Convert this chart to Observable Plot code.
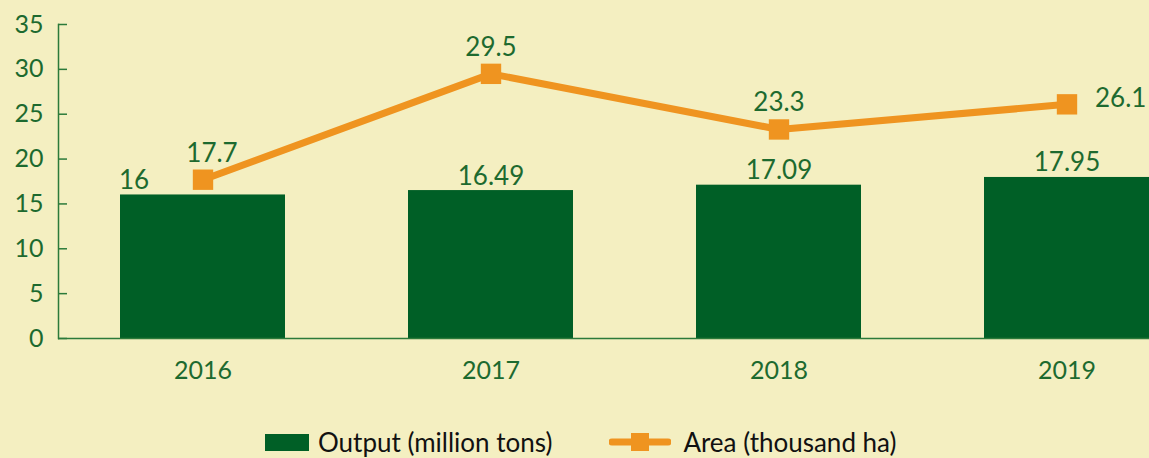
<!DOCTYPE html>
<html>
<head>
<meta charset="utf-8">
<script src="https://cdn.jsdelivr.net/npm/d3@7"></script>
<script src="https://cdn.jsdelivr.net/npm/@observablehq/plot@0.6"></script>
<style>
  html, body { margin: 0; padding: 0; background: #f4efc1; overflow: hidden; }
  body { width: 1149px; height: 458px; font-family: Lato, "Noto Sans", sans-serif; }
  #chart svg { overflow: hidden; display: block; }
  .legend { display: flex; align-items: center; margin-top: 30px; padding-left: 265px; font-size: 26px; line-height: 1.1; color: #111; height: 24px; }
  .legend .item { display: flex; align-items: center; }
  .legend .sw-bar { width: 44px; height: 17px; background: #005f26; margin-right: 9px; }
  .legend svg { margin-right: 12px; }
</style>
</head>
<body>
<div id="chart"></div>
<div class="legend">
  <div class="item"><div class="sw-bar"></div><span>Output (million tons)</span></div>
  <div class="item" style="margin-left:57px"><svg width="62" height="20"><line x1="3" y1="10" x2="59" y2="10" stroke="#ef9420" stroke-width="7" stroke-linecap="round"/><rect x="22" y="1" width="18" height="18" fill="#ef9420"/></svg><span>Area (thousand ha)</span></div>
</div>
<script>
const years = ["2016", "2017", "2018", "2019"];
const output = [16, 16.49, 17.09, 17.95];
const area = [17.7, 29.5, 23.3, 26.1];
const yTicks = [0, 5, 10, 15, 20, 25, 30, 35];

const rows = years.map((y, i) => ({year: y, output: output[i], area: area[i], i}));

const green = "#1d6a2f";
const barColor = "#005f26";
const orange = "#ef9420";

const chart = Plot.plot({
  width: 1149,
  height: 400,
  marginTop: 24,
  marginBottom: 62,
  marginLeft: 58,
  marginRight: 0,
  style: {background: "transparent", fontFamily: "Lato, 'Noto Sans', sans-serif", fontSize: "25px", color: green, overflow: "hidden"},
  x: {domain: years, range: [58.5, 1210.5], paddingInner: 0.427, paddingOuter: 0.2135, label: null},
  y: {domain: [0, 35], label: null},
  marks: [
    Plot.barY(rows, {x: "year", y: "output", fill: barColor}),
    Plot.ruleY([0], {stroke: "#2b7a3a", strokeWidth: 1.5}),
    Plot.frame({anchor: "left", stroke: "#2b7a3a", strokeWidth: 1.5}),
    Plot.axisY(yTicks, {tickSize: 9, dx: 9, tickFormat: () => "", stroke: "#2b7a3a", strokeWidth: 1.5}),
    Plot.axisY(yTicks, {tickSize: 0, tickPadding: 15, fill: green, fontSize: 25}),
    Plot.axisX({tickSize: 0, tickPadding: 23, fill: green, fontSize: 25}),
    Plot.line(rows, {x: "year", y: "area", stroke: orange, strokeWidth: 7}),
    Plot.dot(rows, {x: "year", y: "area", symbol: "square", r: 11.5, fill: orange}),
    // bar labels
    Plot.text(rows, {filter: d => d.i === 0, x: "year", y: "output", text: d => String(d.output), lineAnchor: "bottom", dy: -6, dx: -69, fill: green, fontSize: 26}),
    Plot.text(rows, {filter: d => d.i > 0, x: "year", y: "output", text: d => String(d.output), lineAnchor: "bottom", dy: -6, fill: green, fontSize: 26}),
    // line labels
    Plot.text(rows, {filter: d => d.i === 0, x: "year", y: "area", text: d => String(d.area), lineAnchor: "bottom", dy: -18, dx: 9, fill: green, fontSize: 26}),
    Plot.text(rows, {filter: d => d.i === 1 || d.i === 2, x: "year", y: "area", text: d => String(d.area), lineAnchor: "bottom", dy: -18, fill: green, fontSize: 26}),
    Plot.text(rows, {filter: d => d.i === 3, x: "year", y: "area", text: d => String(d.area), textAnchor: "start", dx: 28, dy: -6, fill: green, fontSize: 26})
  ]
});
document.getElementById("chart").appendChild(chart);
</script>
</body>
</html>
